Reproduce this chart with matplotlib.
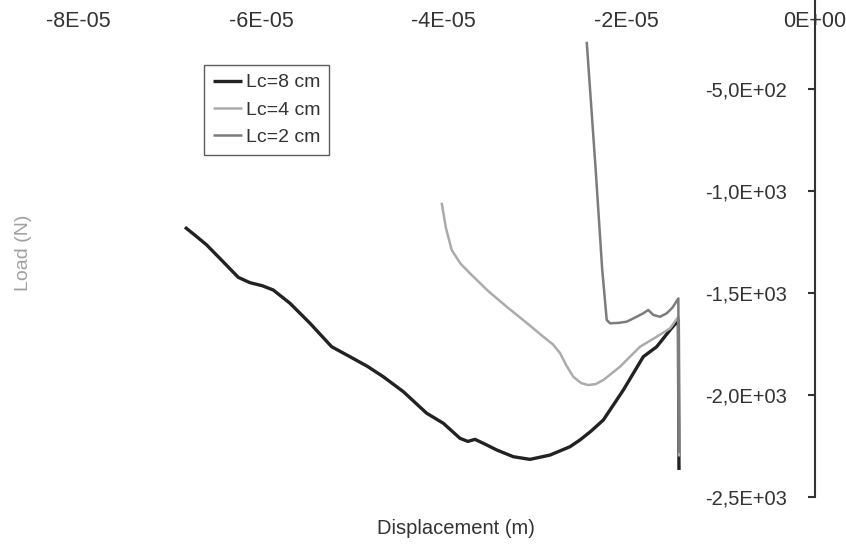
import matplotlib
matplotlib.use("Agg")
import matplotlib.pyplot as plt
from matplotlib.transforms import ScaledTranslation

plt.rcParams['font.family'] = ['Liberation Sans', 'DejaVu Sans']

# ---- data ----
x_lc8 = [-6.897e-5, -6.780e-5, -6.659e-5, -6.480e-5, -6.313e-5, -6.185e-5, -6.050e-5,
         -5.930e-5, -5.747e-5, -5.528e-5, -5.291e-5, -5.090e-5, -4.900e-5, -4.726e-5,
         -4.507e-5, -4.251e-5, -4.069e-5, -3.886e-5, -3.800e-5, -3.722e-5, -3.600e-5,
         -3.484e-5, -3.303e-5, -3.120e-5, -2.901e-5, -2.682e-5, -2.573e-5, -2.450e-5,
         -2.317e-5, -2.098e-5, -1.880e-5, -1.733e-5, -1.587e-5, -1.496e-5, -1.489e-5]
y_lc8 = [-1176, -1218, -1263, -1345, -1422, -1448, -1463,
         -1484, -1549, -1647, -1762, -1811, -1858, -1909,
         -1982, -2088, -2137, -2211, -2226, -2216, -2242,
         -2268, -2301, -2314, -2293, -2252, -2219, -2175,
         -2121, -1974, -1811, -1762, -1680, -1631, -2366]

x_lc4 = [-4.087e-5, -4.040e-5, -3.977e-5, -3.880e-5, -3.777e-5, -3.580e-5, -3.375e-5,
         -3.170e-5, -2.974e-5, -2.870e-5, -2.791e-5, -2.720e-5, -2.646e-5, -2.560e-5,
         -2.482e-5, -2.400e-5, -2.317e-5, -2.135e-5, -1.916e-5, -1.733e-5, -1.587e-5,
         -1.496e-5, -1.489e-5]
y_lc4 = [-1056, -1180, -1288, -1355, -1402, -1488, -1566,
         -1640, -1713, -1750, -1793, -1855, -1909, -1940,
         -1950, -1945, -1925, -1860, -1762, -1713, -1672,
         -1615, -2300]

x_lc2 = [-2.499e-5, -2.400e-5, -2.330e-5, -2.280e-5, -2.244e-5, -2.150e-5, -2.061e-5,
         -1.952e-5, -1.880e-5, -1.825e-5, -1.770e-5, -1.697e-5, -1.623e-5, -1.560e-5,
         -1.496e-5, -1.489e-5]
y_lc2 = [-267, -900, -1380, -1631, -1647, -1645, -1639,
         -1615, -1598, -1582, -1606, -1615, -1598, -1570,
         -1525, -2283]

series_labels = ["Lc=8 cm", "Lc=4 cm", "Lc=2 cm"]

x_ticks = [-8e-5, -6e-5, -4e-5, -2e-5, 0.0]
x_tick_labels = ["-8E-05", "-6E-05", "-4E-05", "-2E-05", "0E+00"]
y_ticks = [-2500, -2000, -1500, -1000, -500]
y_tick_labels = ["-2,5E+03", "-2,0E+03", "-1,5E+03", "-1,0E+03", "-5,0E+02"]

x_label = "Displacement (m)"
y_label = "Load (N)"

# ---- figure ----
W, H = 846, 544
fig = plt.figure(figsize=(W / 100, H / 100), dpi=100)
left_px, right_px, top_px, bottom_px = 84.2, 815.0, -12.7, 497.3
ax = fig.add_axes([left_px / W, 1 - bottom_px / H,
                   (right_px - left_px) / W, (bottom_px - top_px) / H])

ax.plot(x_lc8, y_lc8, color="#222222", lw=2.4, label=series_labels[0],
        solid_joinstyle='round', solid_capstyle='butt')
ax.plot(x_lc4, y_lc4, color="#ababab", lw=1.8, label=series_labels[1],
        solid_joinstyle='round', solid_capstyle='butt')
ax.plot(x_lc2, y_lc2, color="#7c7c7c", lw=1.8, label=series_labels[2],
        solid_joinstyle='round', solid_capstyle='butt')

ax.set_xlim(-8e-5, 0)
ax.set_ylim(-2500, 0)

# spines
for s in ["top", "right", "bottom"]:
    ax.spines[s].set_visible(False)
ax.spines["left"].set_position(("data", 0))
ax.spines["left"].set_color("#333333")
ax.spines["left"].set_linewidth(1.5)

ax.set_yticks(y_ticks)
ax.set_yticklabels(y_tick_labels)
ax.tick_params(axis="y", direction="out", length=5, width=1.5, color="#333333",
               pad=15, labelsize=14.5, labelcolor="#333333")

ax.set_xticks(x_ticks)
ax.set_xticklabels(x_tick_labels)
ax.tick_params(axis="x", top=True, bottom=False, labeltop=True, labelbottom=False,
               length=0, pad=-32.5, labelsize=15.5, labelcolor="#333333")
# the reference labels sit a little left of their ticks (except the last one)
for tick in ax.xaxis.get_major_ticks()[:-1]:
    tick.label2.set_transform(tick.label2.get_transform()
                              + ScaledTranslation(-6 / 100, 0, fig.dpi_scale_trans))

ax.set_xlabel(x_label, fontsize=14.5, color="#333333")
ax.xaxis.set_label_position("bottom")
ax.xaxis.set_label_coords(0.509, -0.042)
ax.xaxis.label.set_va("top")

ax.set_ylabel(y_label, fontsize=14, color="#a0a0a0")
ax.yaxis.set_label_coords(-0.072, 0.48)

leg = ax.legend(loc="upper left", bbox_to_anchor=(204 / W, 1 - 65 / H),
                bbox_transform=fig.transFigure, fontsize=14, frameon=True,
                fancybox=False, edgecolor="#333333", handlelength=1.5,
                handletextpad=0.2, labelspacing=0.5, borderpad=0.45,
                borderaxespad=0)
leg.get_frame().set_linewidth(1.0)
for t in leg.get_texts():
    t.set_color("#333333")

fig.savefig("out.png", dpi=100)
